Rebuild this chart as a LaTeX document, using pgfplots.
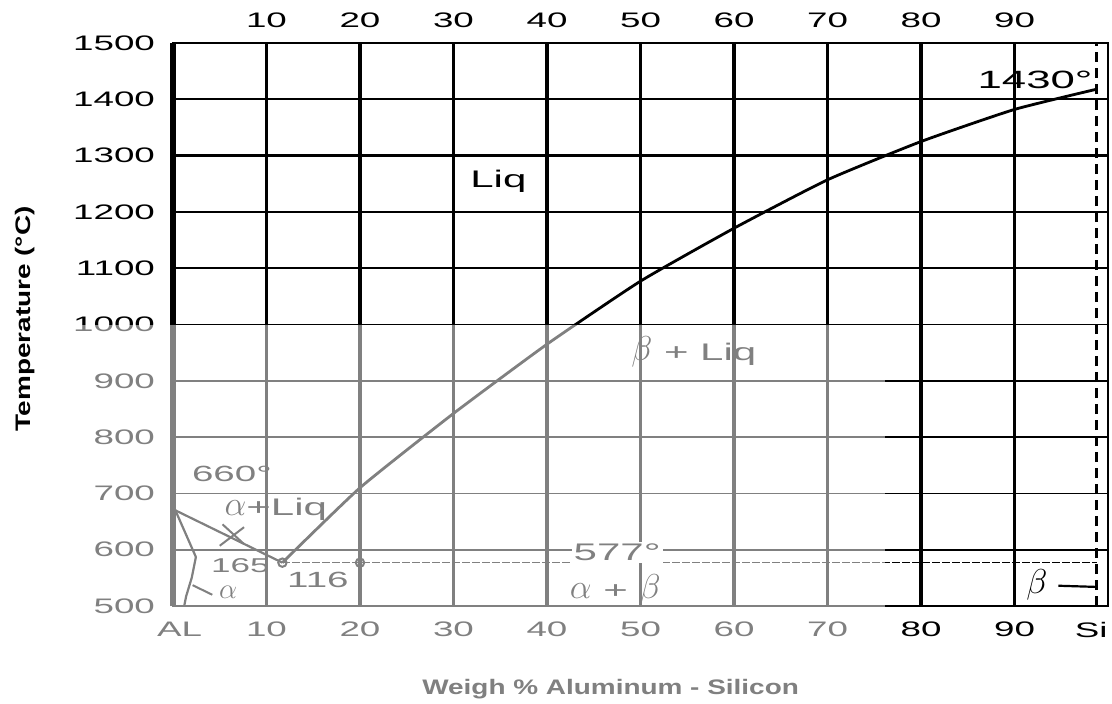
\documentclass[border=0pt]{standalone}
\usepackage{fontspec}
\setmainfont{Liberation Sans}[FakeStretch=1.75]
\newfontfamily\labfont{Liberation Sans}[FakeStretch=1.33]
\usepackage{pgfplots}
\pgfplotsset{compat=1.18}
\newcommand\GA[1]{{\fontsize{#1}{#1}\selectfont$\alpha$}}
\newcommand\GB[1]{{\fontsize{#1}{#1}\selectfont$\beta$}}
\begin{document}
\begin{tikzpicture}
\begin{axis}[
  scale only axis, width=467.5pt, height=281.5pt,
  xmin=0, xmax=100, ymin=500, ymax=1500,
  xtick={10,20,...,90}, ytick={500,600,...,1500},
  extra x ticks={0.7,98.2}, extra x tick labels={AL,Si},
  extra x tick style={grid=none},
  grid=major,
  x grid style={black, line width=1.6pt},
  y grid style={black, line width=0.85pt},
  major tick length=0pt,
  axis line style={black, line width=0.9pt},
  tick label style={font=\fontsize{10.5}{12}\selectfont},
  xticklabel style={yshift=-4.5pt},
  yticklabel style={xshift=-5.5pt},
  /pgf/number format/assume math mode=true,
  /pgf/number format/1000 sep={},
  clip=false,
]
\coordinate (bl) at (rel axis cs:0,0);
\coordinate (tr) at (rel axis cs:1,1);
\coordinate (xl) at (rel axis cs:0.468,0);
\coordinate (yl) at (rel axis cs:0,0.51);
\draw[black, line width=2.8pt] (rel axis cs:0,0) -- (rel axis cs:0,1);
\draw[black, line width=1.4pt] (axis cs:0,1300) -- (axis cs:100,1300);
% liquidus (Si side)
\addplot[black, line width=1.4pt, smooth, tension=0.3] coordinates {
  (11.7,577) (20,710) (30,842) (40,965) (50,1077) (60,1171)
  (70,1257) (80,1325) (90,1382) (98.8,1418)};
% liquidus (Al side)
\addplot[black, line width=1.1pt] coordinates {(0,672) (11.7,577)};
% solidus and solvus (Al side)
\addplot[black, line width=1.1pt] coordinates {(0.2,672) (2.45,587)};
\addplot[black, line width=1.1pt] coordinates {(2.45,587) (2.0,550) (1.4,517) (1.2,500)};
\addplot[black, line width=1pt] coordinates {(4.2,520) (2.1,537)};
\addplot[black, line width=1pt] coordinates {(5.0,607) (7.6,640)};
\addplot[black, line width=1pt] coordinates {(5.3,645) (7.6,610)};
% eutectic line
\addplot[black, line width=0.8pt, dash pattern=on 4pt off 1pt] coordinates {(11.7,577) (98.8,577)};
% Si solubility limit
\addplot[black, line width=1.6pt, dash pattern=on 5pt off 3pt] coordinates {(98.8,500) (98.8,1500)};
\addplot[black, line width=1.1pt] coordinates {(94.7,536) (98.6,534)};
% points
\addplot[only marks, mark=o, mark size=2.1pt, black, line width=1pt, mark options={fill=white}] coordinates {(11.7,577) (20,577)};
% labels
\node[font=\fontsize{12}{14}\selectfont] at (axis cs:34.8,1255) {Liq};
\node[font=\fontsize{12}{14}\selectfont] at (axis cs:55.7,952) {\GB{16} + Liq};
\node[font=\fontsize{12.5}{14}\selectfont] at (axis cs:92.2,1435) {1430°};
\node[font=\fontsize{11}{12}\selectfont] at (axis cs:6.3,735) {660°};
\node[font=\fontsize{12}{12}\selectfont] at (axis cs:11.0,672) {\GA{16}+Liq};
\node[font=\fontsize{10}{10}\selectfont] at (axis cs:7.2,571) {165};
\node[font=\fontsize{11}{12}\selectfont] at (axis cs:15.5,547) {116};
\node[font=\fontsize{11}{12}\selectfont] at (axis cs:5.9,525) {\GA{15}};
\node[font=\fontsize{12}{14}\selectfont, fill=white, inner sep=1pt] at (axis cs:47.5,595) {577°};
\node[font=\fontsize{12}{14}\selectfont] at (axis cs:47.3,528) {\GA{16} + \GB{16}};
\node[font=\fontsize{12}{14}\selectfont] at (axis cs:92.4,538) {\GB{16}};
\end{axis}
\begin{axis}[
  scale only axis, width=467.5pt, height=281.5pt,
  xmin=0, xmax=100, ymin=500, ymax=1500,
  axis x line*=top, hide y axis,
  x axis line style={draw=none},
  xtick={10,20,...,90}, major tick length=0pt,
  tick label style={font=\fontsize{10.5}{12}\selectfont},
  xticklabel style={yshift=4.25pt},
  /pgf/number format/assume math mode=true,
]
\addplot[draw=none] coordinates {(50,1000)};
\end{axis}
\node[rotate=90, font=\labfont\bfseries\fontsize{10.5}{12}\selectfont] at ([xshift=-74pt]yl) {Temperature (°C)};
\node[font=\labfont\bfseries\fontsize{10.5}{12}\selectfont] at ([yshift=-41.5pt]xl) {Weigh \% Aluminum - Silicon};
\fill[white, opacity=0.5] ([shift={(-61.5pt,-48.5pt)}]bl) rectangle ([shift={(356pt,140.5pt)}]bl);
\pgfresetboundingbox
\path[use as bounding box] ([shift={(-86.5pt,-48.5pt)}]bl) rectangle ([shift={(2pt,21.5pt)}]tr);
\end{tikzpicture}
\end{document}
